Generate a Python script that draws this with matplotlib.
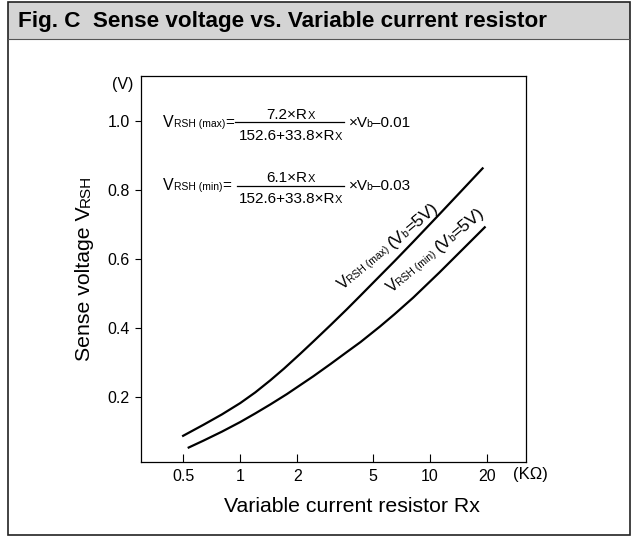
import numpy as np
import matplotlib
matplotlib.use('Agg')
import matplotlib.pyplot as plt
from matplotlib.patches import Rectangle
from matplotlib.lines import Line2D
from matplotlib.ticker import NullLocator
from matplotlib.transforms import IdentityTransform
from matplotlib.font_manager import FontProperties

plt.rcParams['font.family'] = ['Liberation Sans', 'DejaVu Sans']

# values (Rx in kOhm, V in volts)
rx_max = [0.50, 0.64, 0.80, 1.0, 1.2, 1.44, 1.7, 2.07, 2.43, 3.0, 3.64, 4.3, 5.44,
          6.5, 8.15, 11.2, 14.3, 18.9]
v_max = [0.086, 0.118, 0.148, 0.181, 0.212, 0.247, 0.281, 0.324, 0.360, 0.408, 0.453,
         0.493, 0.550, 0.593, 0.649, 0.729, 0.791, 0.862]
rx_min = [0.535, 0.64, 0.80, 1.0, 1.2, 1.44, 1.76, 2.43, 3.0, 3.64, 4.3, 5.44, 6.5,
          8.15, 11.2, 14.9, 19.4]
v_min = [0.052, 0.072, 0.098, 0.126, 0.151, 0.177, 0.207, 0.259, 0.295, 0.329, 0.358,
         0.403, 0.439, 0.487, 0.560, 0.628, 0.691]

x_ticks = [0.5, 1, 2, 5, 10, 20]
x_tick_labels = ['0.5', '1', '2', '5', '10', '20']
y_ticks = [0.2, 0.4, 0.6, 0.8, 1.0]
y_tick_labels = ['0.2', '0.4', '0.6', '0.8', '1.0']

W, H = 634, 536
fig = plt.figure(figsize=(W / 100, H / 100), dpi=100)
renderer = fig.canvas.get_renderer()
ident = IdentityTransform()


def text_width(s, size):
    fp = FontProperties(family=plt.rcParams['font.family'], size=size)
    w, _, _ = renderer.get_text_width_height_descent(s, fp, ismath=False)
    return w


def runs_width(parts):
    return sum(p if isinstance(p, (int, float)) else text_width(*p) for p in parts)


def draw_runs(x, y, parts, angle=0, align='left'):
    # x, y: pixels from top-left, y is the baseline
    a = np.radians(angle)
    if align == 'center':
        w = runs_width(parts)
        x -= w / 2 * np.cos(a)
        y += w / 2 * np.sin(a)
    px, py = x, H - y
    for p in parts:
        if isinstance(p, (int, float)):
            w = p
        else:
            s, size = p
            fig.text(px, py, s, fontsize=size, rotation=angle, rotation_mode='anchor',
                     ha='left', va='baseline', transform=ident)
            w = text_width(s, size)
        px += w * np.cos(a)
        py += w * np.sin(a)


# frame and title bar
fig.add_artist(Rectangle((8, H - 39), 622, 37, transform=ident, facecolor='#d4d4d4',
                         edgecolor='none'))
fig.add_artist(Rectangle((8, 1), 622, H - 3, transform=ident, facecolor='none',
                         edgecolor='#222222', lw=1.2))
fig.add_artist(Line2D([8, 630], [H - 39, H - 39], transform=ident, color='#555555', lw=0.8))
fig.text(18, H - 21, 'Fig. C  Sense voltage vs. Variable current resistor', fontsize=16.2,
         fontweight='bold', va='center', ha='left', transform=ident)

# axes
ax = fig.add_axes([141 / W, 1 - 462 / H, (526 - 141) / W, (462 - 76) / H])
ax.plot(rx_max, v_max, color='black', lw=1.6)
ax.plot(rx_min, v_min, color='black', lw=1.6)
ax.set_xscale('log')
ax.set_xlim(0.30, 32)
ax.set_ylim(0.01, 1.13)
ax.set_xticks(x_ticks)
ax.set_xticklabels(x_tick_labels)
ax.xaxis.set_minor_locator(NullLocator())
ax.set_yticks(y_ticks)
ax.set_yticklabels(y_tick_labels)
ax.tick_params(axis='x', direction='in', length=6, width=0.8, pad=5, labelsize=11.5)
ax.tick_params(axis='y', direction='out', length=4, width=0.8, pad=4, labelsize=11.5)
for sp in ax.spines.values():
    sp.set_linewidth(0.9)

# unit labels
fig.text(530, H - 475, '(K\u03a9)', fontsize=12, ha='center', va='center', transform=ident)
fig.text(123, H - 77, '(V)', fontsize=11.5, ha='center', va='top', transform=ident)

# axis titles
fig.text(352, H - 507, 'Variable current resistor Rx', fontsize=15.3, ha='center',
         va='center', transform=ident)
ylab = [('Sense voltage V', 15.3), ('RSH', 11)]
draw_runs(90, 268 + runs_width(ylab) / 2, ylab, angle=90)

# formulas
draw_runs(163, 126.7, [('V', 11.5), ('RSH (max)', 7.5), ('=', 11)])
draw_runs(290.5, 119.3, [('7.2\u00d7R', 11), ('X', 8)], align='center')
fig.add_artist(Line2D([235, 344], [H - 122, H - 122], transform=ident, color='black', lw=0.9))
draw_runs(290.5, 140, [('152.6+33.8\u00d7R', 11), ('X', 8)], align='center')
draw_runs(349, 126.7, [('\u00d7V', 11), -1.5, ('b', 7.5), ('\u20130.01', 11)])

draw_runs(163, 190, [('V', 11.5), ('RSH (min)', 7.5), ('=', 11)])
draw_runs(290.5, 182.3, [('6.1\u00d7R', 11), ('X', 8)], align='center')
fig.add_artist(Line2D([237, 344], [H - 185.7, H - 185.7], transform=ident, color='black', lw=0.9))
draw_runs(290.5, 203.3, [('152.6+33.8\u00d7R', 11), ('X', 8)], align='center')
draw_runs(349, 190, [('\u00d7V', 11), -1.5, ('b', 7.5), ('\u20130.03', 11)])

# curve labels
lab_max = [('V', 11.5), ('RSH (max)', 7.5), 3, ('(V', 12.5), -1, ('b', 7.5), ('=5V)', 12.5)]
lab_min = [('V', 11.5), ('RSH (min)', 7.5), 3, ('(V', 12.5), -1, ('b', 7.5), ('=5V)', 12.5)]
draw_runs(343, 290, lab_max, angle=40)
draw_runs(392, 293, lab_min, angle=40)

fig.savefig('out.png', dpi=100)
